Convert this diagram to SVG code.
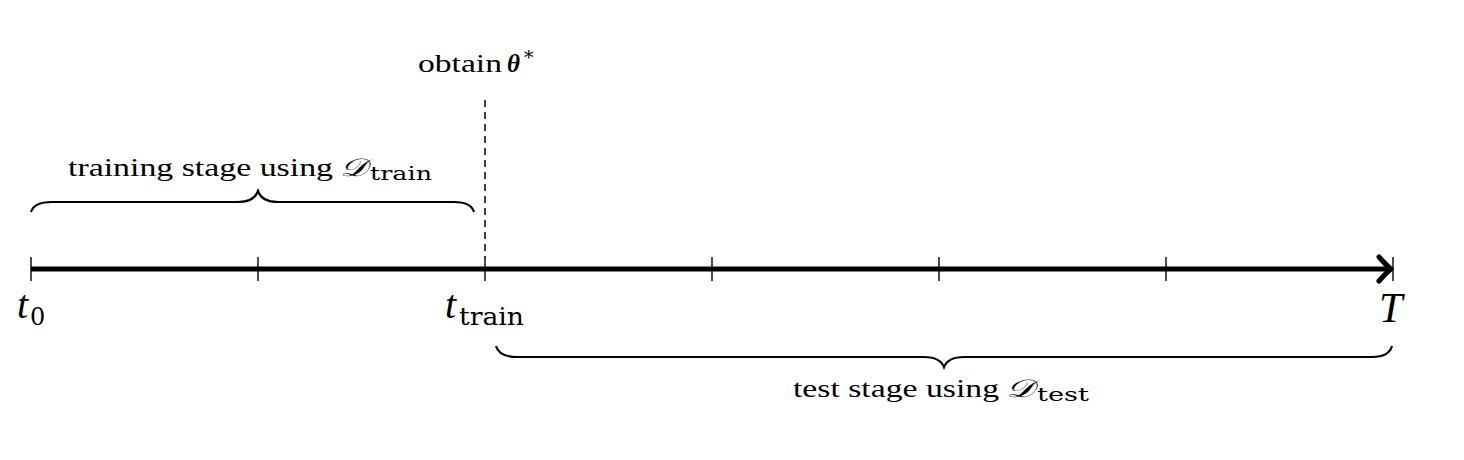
<svg xmlns="http://www.w3.org/2000/svg" width="1464" height="460" viewBox="0 0 1464 460">
<style>
.lbl{font-family:"Liberation Serif","DejaVu Serif",serif;font-size:25px;fill:#000}
.sub{font-family:"DejaVu Serif","Liberation Serif",serif;font-size:19px;fill:#000}
.cal{font-family:"DejaVu Serif",serif;font-style:italic;font-size:25px;fill:#000}
.math{font-family:"Liberation Serif","DejaVu Serif",serif;font-style:italic;fill:#000}
.msub{font-family:"DejaVu Serif","Liberation Serif",serif;font-size:24px;fill:#000}
.tick{stroke:#000;stroke-width:1.4;fill:none}
.brace{stroke:#000;stroke-width:2.2;fill:none}
</style>
<rect width="1464" height="460" fill="#fff"/>
<g id="connectors">
<line x1="31" y1="269" x2="1388" y2="269" stroke="#000" stroke-width="5"/>
<path d="M1379,257 Q1386,265 1391,269 Q1386,273 1379,281" stroke="#000" stroke-width="5" fill="none" stroke-linecap="round" stroke-linejoin="round"/>
<line x1="485" y1="100" x2="485" y2="258" stroke="#000" stroke-width="1.5" stroke-dasharray="7,5"/>
</g>
<g id="ticks">
<line class="tick" x1="31" y1="257" x2="31" y2="281"/>
<line class="tick" x1="258" y1="257" x2="258" y2="281"/>
<line class="tick" x1="485" y1="257" x2="485" y2="281"/>
<line class="tick" x1="712" y1="257" x2="712" y2="281"/>
<line class="tick" x1="939" y1="257" x2="939" y2="281"/>
<line class="tick" x1="1166" y1="257" x2="1166" y2="281"/>
<line class="tick" x1="1393" y1="257" x2="1393" y2="281"/>
</g>
<g id="train-brace">
<path class="brace" d="M31,212 Q34,202 52,202 L238,202 Q254,202 258,191 Q262,202 278,202 L454,202 Q471,202 474,212"/>
<text class="lbl" x="68" y="176" textLength="265" lengthAdjust="spacingAndGlyphs">training stage using</text>
<text class="cal" x="340" y="176" textLength="27" lengthAdjust="spacingAndGlyphs">𝒟</text>
<text class="sub" x="370" y="180" textLength="62" lengthAdjust="spacingAndGlyphs">train</text>
</g>
<g id="test-brace">
<path class="brace" d="M496,346 Q499,357 517,357 L924,357 Q940,357 944,367 Q948,357 964,357 L1372,357 Q1389,357 1392,346"/>
<text class="lbl" x="793" y="397" textLength="206" lengthAdjust="spacingAndGlyphs">test stage using</text>
<text class="cal" x="1006" y="397" textLength="28" lengthAdjust="spacingAndGlyphs">𝒟</text>
<text class="sub" x="1037" y="401" textLength="52" lengthAdjust="spacingAndGlyphs">test</text>
</g>
<g id="obtain">
<text class="lbl" x="418" y="72" textLength="84" lengthAdjust="spacingAndGlyphs">obtain</text>
<text class="lbl" x="507" y="72" font-weight="bold" font-style="italic">θ</text>
<text class="sub" x="524" y="64">*</text>
</g>
<g id="label-t0">
<text x="17" y="318" class="math" font-size="40">t</text>
<text x="30" y="325" class="msub">0</text>
</g>
<g id="label-ttrain">
<text x="445" y="318" class="math" font-size="40">t</text>
<text x="459" y="325" class="msub" textLength="65" lengthAdjust="spacingAndGlyphs">train</text>
</g>
<g id="label-T">
<text x="1379" y="322" class="math" font-size="42">T</text>
</g>
</svg>
